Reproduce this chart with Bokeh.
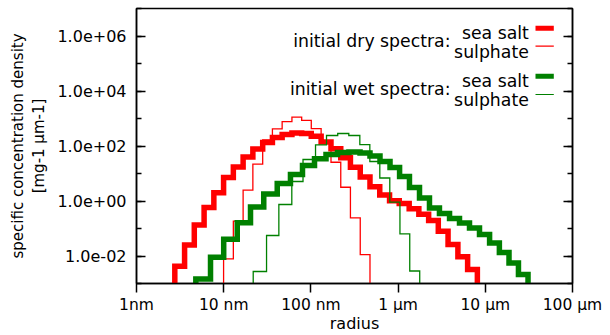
import numpy as np
from bokeh.plotting import figure
from bokeh.models import (FixedTicker, CustomJSTickFormatter, LogAxis, Label,
                          BoxAnnotation, Range1d)
from bokeh.embed import file_html
from bokeh.resources import INLINE

# ---------------- data (radius in µm, density in mg-1 µm-1) ----------------
dry_edges = [0.00275, 0.00356, 0.00460, 0.00596, 0.00771, 0.00997, 0.0129, 0.0167,
             0.0216, 0.0280, 0.0362, 0.0468, 0.0606, 0.0784, 0.101, 0.131, 0.170,
             0.220, 0.284, 0.368, 0.476, 0.616, 0.798, 1.03, 1.34, 1.73, 2.24, 2.89,
             3.74, 4.85, 6.27, 8.11]
dry_seasalt = [0.0042, 0.025, 0.135, 0.575, 2.0, 7.1, 17.4, 40, 78, 135, 204, 263,
               295, 282, 224, 141, 79, 37, 17, 7.4, 3.3, 1.66, 1.02, 0.81, 0.52,
               0.33, 0.195, 0.079, 0.026, 0.0093, 0.0032]
dry_sulphate_first_bin = 5
dry_sulphate = [0.0079, 0.186, 2.5, 22, 166, 417, 776, 1120, 851, 427, 151, 25.7,
                3.16, 0.245, 0.0112]

wet_seasalt_edges = [0.00479, 0.00706, 0.0100, 0.0143, 0.0203, 0.0288, 0.0411,
                     0.0583, 0.0801, 0.110, 0.149, 0.202, 0.273, 0.366, 0.476,
                     0.620, 0.808, 1.04, 1.35, 1.76, 2.29, 2.98, 3.89, 5.06, 6.59,
                     8.58, 11.2, 14.5, 18.7, 24.0, 30.9]
wet_seasalt = [0.00145, 0.0091, 0.0407, 0.162, 0.603, 1.80, 4.33, 9.2, 19.5, 34.3,
               49.1, 58.1, 60.5, 55.6, 43.3, 27.3, 16.5, 7.8, 3.10, 1.29, 0.556,
               0.351, 0.231, 0.158, 0.104, 0.0605, 0.0297, 0.0134, 0.00556, 0.00212]

wet_sulphate_edges = [0.0218, 0.0310, 0.0429, 0.0604, 0.0812, 0.113, 0.151, 0.203,
                      0.272, 0.364, 0.474, 0.617, 0.803, 1.05, 1.36, 1.77]
wet_sulphate = [0.00273, 0.0556, 0.746, 5.12, 32.3, 109, 241, 285, 241, 113, 27.3,
                6.86, 0.904, 0.0641, 0.00285]

x_ticks = [1e-3, 1e-2, 1e-1, 1, 10, 100]
x_tick_labels = ["1nm", "10 nm", "100 nm", "1 µm", "10 µm", "100 µm"]
y_ticks = [1e-2, 1, 1e2, 1e4, 1e6]
y_tick_labels = ["1.0e-02", "1.0e+00", "1.0e+02", "1.0e+04", "1.0e+06"]
y_minor_ticks = [1e-3, 1e-2, 1e-1, 1, 1e1, 1e2, 1e3, 1e4, 1e5, 1e6, 1e7]

x_label = "radius"
y_label_lines = ["specific concentration density", "[mg-1 µm-1]"]
group_titles = ["initial dry spectra:", "initial wet spectra:"]
entry_names = ["sea salt", "sulphate"]

FONT = "DejaVu Sans"
RED = "#ff0000"
GREEN = "#008000"


def step_path(edges, vals, floor=1e-6):
    xs = [edges[0]]
    ys = [floor]
    for i, v in enumerate(vals):
        xs += [edges[i], edges[i + 1]]
        ys += [v, v]
    xs.append(edges[len(vals)])
    ys.append(floor)
    return xs, ys


p = figure(width=610, height=335, x_axis_type="log", y_axis_type="log",
           x_range=Range1d(1e-3, 1e2), y_range=Range1d(1e-3, 1e7),
           output_backend="svg", toolbar_location=None,
           min_border_left=136, min_border_right=38, min_border_top=8,
           min_border_bottom=52, background_fill_color="white",
           border_fill_color="white")
p.xgrid.visible = False
p.ygrid.visible = False
p.outline_line_color = "black"
p.outline_line_width = 1.5

series = [
    (dry_edges, dry_seasalt, RED, 5.5),
    (dry_edges[dry_sulphate_first_bin:], dry_sulphate, RED, 1.3),
    (wet_seasalt_edges, wet_seasalt, GREEN, 5.5),
    (wet_sulphate_edges, wet_sulphate, GREEN, 1.3),
]
for edges, vals, col, w in series:
    xs, ys = step_path(edges, vals)
    p.line(xs, ys, line_color=col, line_width=w, line_join="miter", line_cap="butt")

lookup_code = """
let best = 0, bd = Infinity;
for (let i = 0; i < vals.length; i++) {
  const d = Math.abs(Math.log10(tick) - Math.log10(vals[i]));
  if (d < bd) { bd = d; best = i; }
}
return bd < 0.01 ? labels[best] : '';
"""

xax = p.xaxis[0]
xax.ticker = FixedTicker(ticks=x_ticks, minor_ticks=[])
xax.formatter = CustomJSTickFormatter(args=dict(vals=x_ticks, labels=x_tick_labels),
                                      code=lookup_code)
xax.major_tick_in = 0
xax.major_tick_out = 9
xax.minor_tick_in = 0
xax.minor_tick_out = 0
xax.major_label_standoff = 3
xax.axis_label = x_label
xax.axis_label_standoff = -3

yax = p.yaxis[0]
yticker = FixedTicker(ticks=y_ticks, minor_ticks=y_minor_ticks)
yax.ticker = yticker
yax.formatter = CustomJSTickFormatter(args=dict(vals=y_ticks, labels=y_tick_labels),
                                      code=lookup_code)
yax.major_tick_in = 9
yax.major_tick_out = 0
yax.minor_tick_in = 5
yax.minor_tick_out = 0
yax.major_label_standoff = 10
yax.axis_label = "\n".join(y_label_lines)
yax.axis_label_standoff = 6

for ax in (xax, yax):
    ax.axis_line_color = "black"
    ax.axis_line_width = 1.5
    ax.major_tick_line_width = 1.5
    ax.minor_tick_line_width = 1.5
    ax.major_label_text_font = FONT
    ax.axis_label_text_font = FONT
    ax.axis_label_text_font_style = "normal"
    ax.major_label_text_color = "black"
    ax.axis_label_text_color = "black"
xax.major_label_text_font_size = "15.5px"
xax.axis_label_text_font_size = "16px"
yax.major_label_text_font_size = "16px"
yax.axis_label_text_font_size = "15px"

rax = LogAxis(ticker=yticker, formatter=CustomJSTickFormatter(code="return '';"),
              major_tick_in=9, major_tick_out=0, minor_tick_in=5, minor_tick_out=0,
              axis_line_color="black", axis_line_width=1.5,
              major_tick_line_width=1.5, minor_tick_line_width=1.5,
              major_label_text_font_size="1px")
p.add_layout(rax, "right")

# ---------------- key (gnuplot style: labels left of samples) ----------------
# frame-relative screen positions
groups = [
    (group_titles[0], 243, [(250.3, 255.3, RED, 5), (231.3, 237.3, RED, 1.2)]),
    (group_titles[1], 194.2, [(203.0, 207.3, GREEN, 5), (183.7, 189.0, GREEN, 1.2)]),
]
for title, ty, entries in groups:
    p.add_layout(Label(x=314, y=ty, x_units="screen", y_units="screen", text=title,
                       text_align="right", text_baseline="alphabetic",
                       text_font=FONT, text_font_size="17.3px", text_color="black"))
    for name, (ly, sy, col, th) in zip(entry_names, entries):
        p.add_layout(Label(x=392.3, y=ly, x_units="screen", y_units="screen",
                           text=name, text_align="right",
                           text_baseline="alphabetic", text_font=FONT,
                           text_font_size="17.3px", text_color="black"))
        p.add_layout(BoxAnnotation(left=399, right=417.3, bottom=sy - th / 2,
                                   top=sy + th / 2, left_units="screen",
                                   right_units="screen", top_units="screen",
                                   bottom_units="screen", fill_color=col,
                                   fill_alpha=1.0, line_alpha=0))

open("out.html", "w").write(file_html(p, INLINE))
